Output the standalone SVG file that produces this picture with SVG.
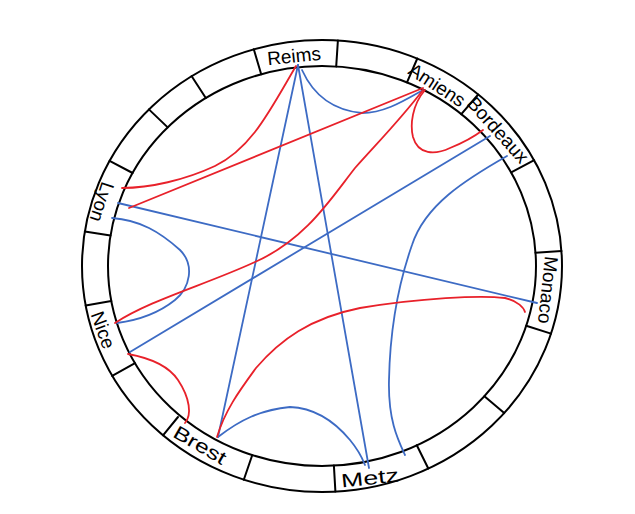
<svg xmlns="http://www.w3.org/2000/svg" width="635" height="514" viewBox="0 0 635 514">
<style>
.ring{fill:none;stroke:#000;stroke-width:2}
.div{stroke:#000;stroke-width:2;stroke-linecap:round}
.lbl{font-family:"Liberation Sans","DejaVu Sans",sans-serif;font-size:19px;fill:#000;text-anchor:middle;dominant-baseline:central}
.b{fill:none;stroke:#3d6bc4;stroke-width:1.8;stroke-linecap:round}
.r{fill:none;stroke:#e8212a;stroke-width:1.8;stroke-linecap:round}
</style>
<rect width="635" height="514" fill="#fff"/>
<g id="ring">
<ellipse class="ring" cx="322" cy="266" rx="240" ry="226"/>
<ellipse class="ring" cx="322" cy="266" rx="214" ry="200"/>
<line class="div" x1="261.2" y1="74.2" x2="253.8" y2="49.3"/>
<line class="div" x1="336.2" y1="66.4" x2="337.9" y2="40.5"/>
<line class="div" x1="407" y1="82.4" x2="417.3" y2="58.5"/>
<line class="div" x1="461.3" y1="114.2" x2="478.2" y2="94.5"/>
<line class="div" x1="511.2" y1="172.4" x2="534.2" y2="160.2"/>
<line class="div" x1="535.5" y1="252.7" x2="561.5" y2="251"/>
<line class="div" x1="526.2" y1="325.8" x2="551" y2="333.6"/>
<line class="div" x1="484.4" y1="396.2" x2="504.2" y2="413.1"/>
<line class="div" x1="416.8" y1="445.2" x2="428.3" y2="468.5"/>
<line class="div" x1="333.9" y1="465.6" x2="335.4" y2="491.6"/>
<line class="div" x1="252.2" y1="455.2" x2="243.8" y2="479.8"/>
<line class="div" x1="178" y1="417" x2="163" y2="435.3"/>
<line class="div" x1="135" y1="363.2" x2="112.2" y2="375.9"/>
<line class="div" x1="111.3" y1="301.1" x2="85.7" y2="305.6"/>
<line class="div" x1="110.5" y1="235.4" x2="84.8" y2="231.4"/>
<line class="div" x1="132.6" y1="173" x2="109.6" y2="160.9"/>
<line class="div" x1="167.7" y1="127.4" x2="148.9" y2="109.4"/>
<line class="div" x1="205.8" y1="98" x2="191.7" y2="76.2"/>
</g>
<g id="connectors">
<path class="b" d="M298,65 L218,437"/>
<path class="b" d="M298,65 L369,468"/>
<path class="b" d="M302,70 C312,92 330,110 362,113 C385,113 405,100 423,90"/>
<path class="b" d="M118,203 L537,303"/>
<path class="b" d="M130,352 L490,136"/>
<path class="b" d="M507,156 C465,180 425,205 412,245 C398,285 390,330 389,380 C388,420 398,440 405,455"/>
<path class="b" d="M112,218 C140,220 160,232 180,250 C195,265 190,288 175,300 C160,312 140,320 117,323"/>
<path class="b" d="M218,437 C240,420 260,410 290,407 C315,408 335,422 350,440 C360,452 363,460 365,465"/>
<path class="r" d="M296,66 C270,110 252,148 215,166 C185,180 150,188 122,188"/>
<path class="r" d="M129,208 L423,88"/>
<path class="r" d="M423,90 C400,120 380,140 355,168 C330,200 305,240 255,262 C205,285 150,300 115,323"/>
<path class="r" d="M425,90 C412,105 410,125 413,137 C418,155 435,155 450,148 C465,142 475,136 483,130"/>
<path class="r" d="M128,354 C150,358 168,365 178,380 C190,398 192,415 185,423"/>
<path class="r" d="M217,437 C225,410 240,390 256,368 C280,340 310,318 360,308 C420,298 480,295 505,298 C518,301 524,308 525,312"/>
</g>
<g id="reims"><text class="lbl" transform="translate(294,56) rotate(-6)" font-size="20">Reims</text></g>
<g id="amiens"><text class="lbl" transform="translate(437,85) rotate(33)" font-size="17">Amiens</text></g>
<g id="bordeaux"><text class="lbl" transform="translate(498,130) rotate(48)" font-size="16">Bordeaux</text></g>
<g id="monaco"><text class="lbl" transform="translate(548,290) rotate(96)" font-size="17">Monaco</text></g>
<g id="metz"><text class="lbl" transform="translate(370,478) rotate(-6)" font-size="22" textLength="58" lengthAdjust="spacingAndGlyphs">Metz</text></g>
<g id="brest"><text class="lbl" transform="translate(200,445) rotate(30)" font-size="22" textLength="58" lengthAdjust="spacingAndGlyphs">Brest</text></g>
<g id="nice"><text class="lbl" transform="translate(103,330) rotate(70)" font-size="21">Nice</text></g>
<g id="lyon"><text class="lbl" transform="translate(102,202) rotate(108)" font-size="22">Lyon</text></g>
</svg>
